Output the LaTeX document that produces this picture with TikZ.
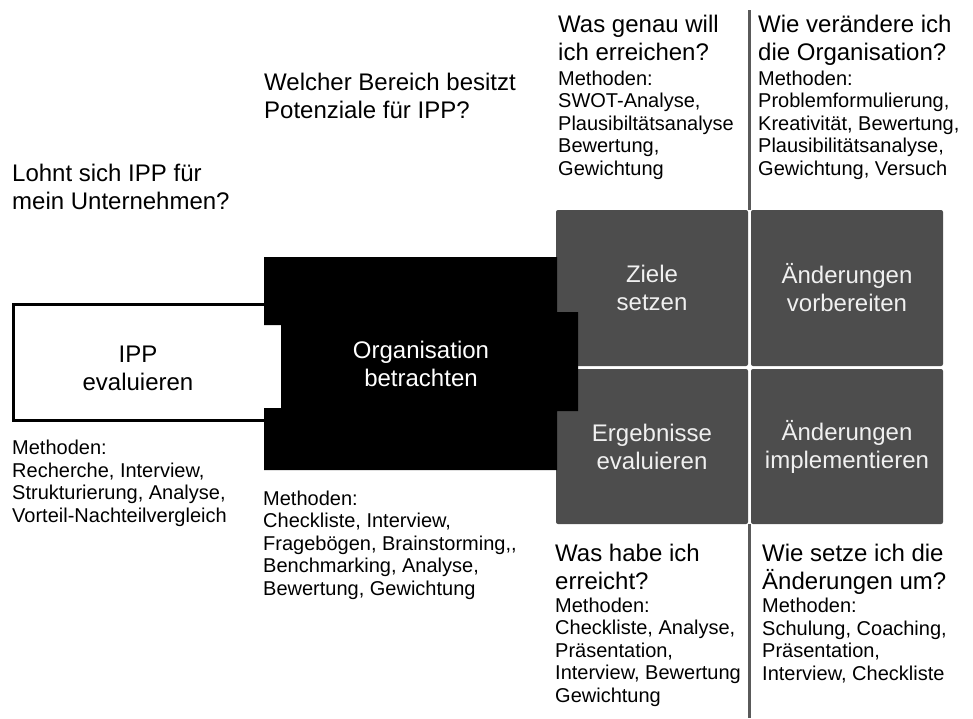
\documentclass[tikz,border=0pt]{standalone}
\usepackage{fontspec}
\setmainfont{Liberation Sans}
\definecolor{blockgrey}{HTML}{4D4D4D}
\definecolor{rulegrey}{HTML}{5A5A5A}
\newcommand\fragefont{\fontsize{24}{28}\selectfont}
\newcommand\methodenfont{\fontsize{20}{22.4}\selectfont}
\tikzset{
  frage/.style={anchor=base west, inner sep=0pt, align=left, font=\fragefont},
  methoden/.style={anchor=base west, inner sep=0pt, align=left, font=\methodenfont},
  phase/.style={fill=blockgrey, rounded corners=2pt, inner sep=0pt,
    minimum width=192pt, minimum height=156pt, align=center,
    text=white!94!black, font=\fragefont},
  divider/.style={draw=rulegrey, line width=2.6pt}
}
\begin{document}
\begin{tikzpicture}[x=1pt, y=-1pt]
  \useasboundingbox (0,0) rectangle (973,718);
  % the four phases
  \node[phase] (ziele) at (652,288) {Ziele\\setzen};
  \node[phase] (vorbereiten) at (847,288) {Änderungen\\vorbereiten};
  \node[phase, minimum height=155pt] (ergebnisse) at (652,446.5) {Ergebnisse\\evaluieren};
  \node[phase, minimum height=155pt] (implementieren) at (847,446.5) {Änderungen\\implementieren};
  \draw[divider] (749.5,10) coordinate (dtop) -- (dtop |- ziele.north);
  \draw[divider] (ergebnisse.south -| dtop) -- (749.5,718) coordinate (dbottom);
  % evaluation box and the black block over it
  \draw[line width=3.2pt] (13.5,304.5) rectangle (290,420.5);
  \node[align=center, inner sep=0pt, font=\fragefont] (ipp) at (138,368) {IPP\\evaluieren};
  \fill[black] (264,257) -- (557,257) -- (557,312) -- (578,312) -- (578,411)
    -- (557,411) -- (557,470) -- (264,470) -- (264,408) -- (281,408)
    -- (281,325) -- (264,325) -- cycle;
  \node[align=center, inner sep=0pt, font=\fragefont, text=white] (orga) at (421,364)
    {Organisation\\betrachten};
  % questions and methods (placed by their last baseline)
  \node[frage] (f1) at (12,209) {Lohnt sich IPP für\\mein Unternehmen?};
  \node[methoden] (m1) at (12,522) {Methoden:\\Recherche, Interview,\\Strukturierung, Analyse,\\Vorteil-Nachteilvergleich};
  \node[frage] (f2) at (264,118) {Welcher Bereich besitzt\\Potenziale für IPP?};
  \node[methoden] (m2) at (263,595) {Methoden:\\Checkliste, Interview,\\Fragebögen, Brainstorming,{},\\Benchmarking, Analyse,\\Bewertung, Gewichtung};
  \node[frage] (f3) at (558,60) {Was genau will\\ich erreichen?};
  \node[methoden] (m3) at (558,175) {Methoden:\\SWOT-Analyse,\\Plausibiltätsanalyse\\Bewertung,\\Gewichtung};
  \node[frage] (f4) at (758,60) {Wie verändere ich\\die Organisation?};
  \node[methoden] (m4) at (758,175) {Methoden:\\Problemformulierung,\\Kreativität, Bewertung,\\Plausibilitätsanalyse,\\Gewichtung, Versuch};
  \node[frage] (f5) at (555,589) {Was habe ich\\erreicht?};
  \node[methoden] (m5) at (555,702) {Methoden:\\Checkliste, Analyse,\\Präsentation,\\Interview, Bewertung\\Gewichtung};
  \node[frage] (f6) at (762,589) {Wie setze ich die\\Änderungen um?};
  \node[methoden] (m6) at (762,680) {Methoden:\\Schulung, Coaching,\\Präsentation,\\Interview, Checkliste};
\end{tikzpicture}
\end{document}
